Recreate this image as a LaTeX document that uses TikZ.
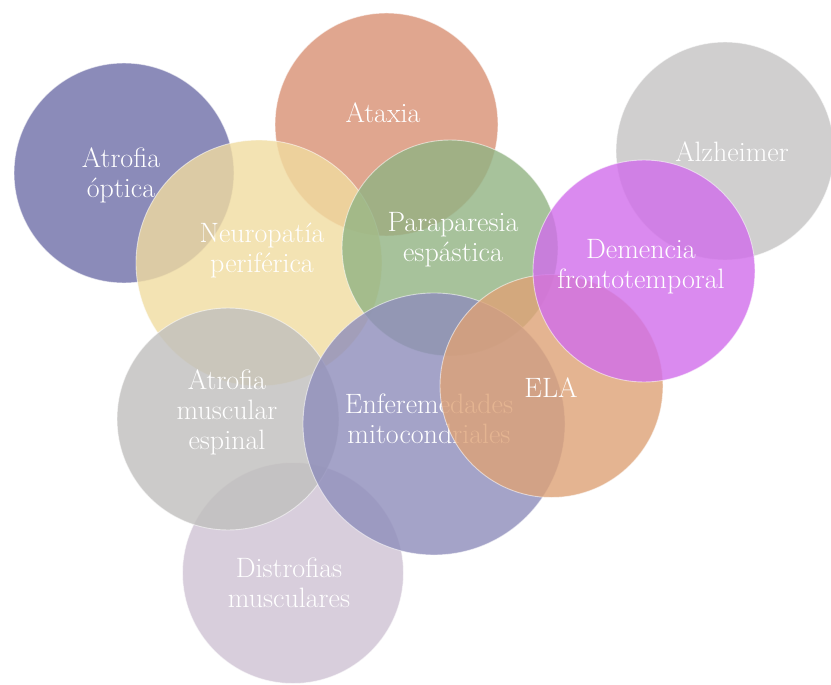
\documentclass[tikz,border=0pt]{standalone}
\begin{document}
\begin{tikzpicture}[x=1pt,y=-1pt,
  disc/.style={circle, inner sep=0pt, minimum size=#1, fill opacity=0.8, draw=white, draw opacity=0.55, line width=0.9pt},
  lbl/.style={text=white, align=center, font=\fontsize{28}{30}\selectfont, inner sep=0pt}]
\definecolor{cOpt}{HTML}{6F6EA8}
\definecolor{cAtax}{HTML}{D99074}
\definecolor{cAlz}{HTML}{C5C4C4}
\definecolor{cNeuro}{HTML}{F1DCA0}
\definecolor{cPara}{HTML}{91B383}
\definecolor{cDist}{HTML}{CFC2D4}
\definecolor{cAme}{HTML}{C0BFBD}
\definecolor{cMito}{HTML}{8E8DBB}
\definecolor{cEla}{HTML}{DEA276}
\definecolor{cDem}{HTML}{D16DEB}
\fill[white] (0,0) rectangle (831,685);
\useasboundingbox (0,0) rectangle (831,685);

\node[disc=220pt, fill=cOpt] (opt) at (124,173) {};
\node[lbl] (tOpt) at (121,175) {Atrofia\\óptica};

\node[disc=223pt, fill=cAtax] (atax) at (386.5,124.5) {};
\node[lbl] (tAtax) at (383,113) {Ataxia};

\node[disc=218pt, fill=cAlz] (alz) at (725,151) {};
\node[lbl] (tAlz) at (732,152) {Alzheimer};

\node[disc=246pt, fill=cNeuro] (neuro) at (259,263) {};
\node[lbl] (tNeuro) at (262,250) {Neuropatía\\periférica};

\node[disc=216pt, fill=cPara] (para) at (450,248) {};
\node[lbl] (tPara) at (453,240) {Paraparesia\\espástica};

\node[disc=221pt, fill=cDist] (dist) at (293,573) {};
\node[lbl] (tDist) at (289,583) {Distrofias\\musculares};

\node[disc=222pt, fill=cAme] (ame) at (228,419) {};
\node[lbl] (tAme) at (227,412) {Atrofia\\muscular\\espinal};

\node[disc=262pt, fill=cMito] (mito) at (434,424) {};
\node[lbl] (tMito) at (429,419) {Enferemedades\\mitocondriales};

\node[disc=223pt, fill=cEla] (ela) at (551.5,386) {};
\node[lbl] (tEla) at (551,388) {ELA};

\node[disc=222pt, fill=cDem] (dem) at (644,271) {};
\node[lbl] (tDem) at (641,267) {Demencia\\frontotemporal};
\end{tikzpicture}
\end{document}
